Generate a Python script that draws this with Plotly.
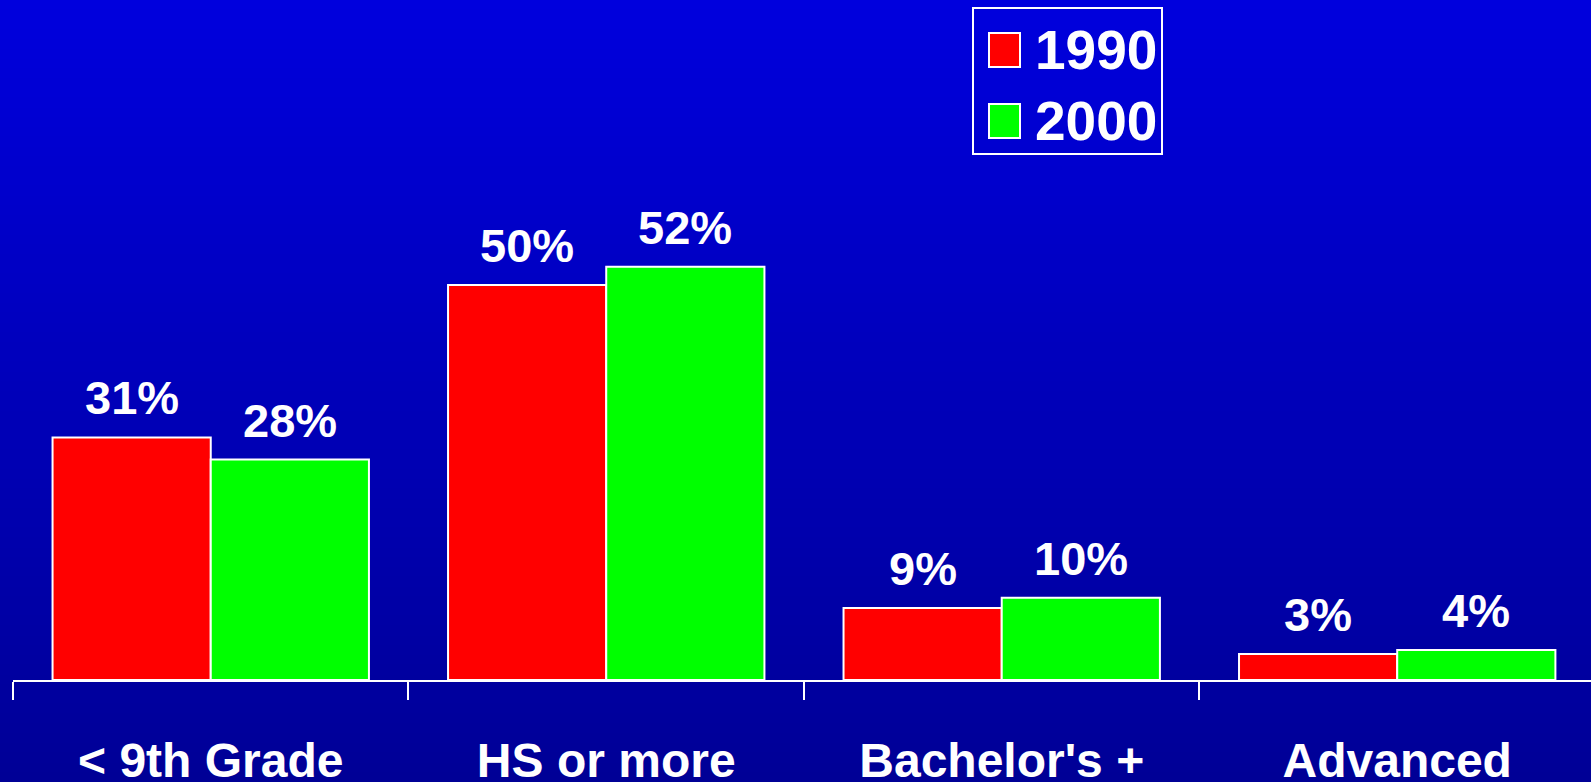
import plotly.graph_objects as go

# data
categories = ["< 9th Grade", "HS or more", "Bachelor's +", "Advanced"]
series_names = ["1990", "2000"]
values_1990 = [30.7, 50.0, 9.1, 3.3]
values_2000 = [27.9, 52.3, 10.4, 3.8]
labels_1990 = ["31%", "50%", "9%", "3%"]
labels_2000 = ["28%", "52%", "10%", "4%"]
bar_colors = ["#FF0000", "#00FF00"]

W, H = 1591, 782
ML, MR, MT, MB = 13, 0, 0, 102
PW, PH = W - ML - MR, H - MT - MB
FONT = "Liberation Sans, Arial, sans-serif"


def px_x(x):
    return (x - ML) / PW


def px_y(y):
    return 1 - (y - MT) / PH


fig = go.Figure()
for name, vals, color in zip(series_names, [values_1990, values_2000], bar_colors):
    fig.add_trace(go.Bar(x=categories, y=vals, name=name, marker_color=color,
                         marker_line=dict(color="white", width=2), showlegend=False,
                         hoverinfo="skip"))

# value labels above the bars
annotations = []
for i in range(len(categories)):
    for off, vals, labs in [(-0.2, values_1990, labels_1990), (0.2, values_2000, labels_2000)]:
        annotations.append(dict(x=i + off, y=vals[i], xref="x", yref="y", text=labs[i],
                                showarrow=False, yanchor="bottom", yshift=11,
                                font=dict(family=FONT, size=47, color="white", weight="bold")))

# background gradient (bright blue at top, navy at bottom)
shapes = []
n_bands = 80
top_rgb, bot_rgb = (0, 0, 221), (0, 0, 150)
for k in range(n_bands):
    f = (k + 0.5) / n_bands
    b = round(top_rgb[2] + (bot_rgb[2] - top_rgb[2]) * f)
    y_top = k * H / n_bands
    y_bot = (k + 1) * H / n_bands + 1
    shapes.append(dict(type="rect", xref="paper", yref="paper", layer="below",
                       x0=px_x(0), x1=px_x(W), y0=px_y(y_bot), y1=px_y(y_top),
                       fillcolor=f"rgb(0,0,{b})", line_width=0))

# custom legend with big swatches
shapes.append(dict(type="rect", xref="paper", yref="paper", x0=px_x(973), x1=px_x(1162),
                   y0=px_y(154), y1=px_y(8), line=dict(color="white", width=2),
                   fillcolor="rgba(0,0,0,0)"))
for j, (name, color) in enumerate(zip(series_names, bar_colors)):
    cy = 50 + j * 71
    shapes.append(dict(type="rect", xref="paper", yref="paper", x0=px_x(989), x1=px_x(1020),
                       y0=px_y(cy + 17), y1=px_y(cy - 17), fillcolor=color,
                       line=dict(color="white", width=2)))
    annotations.append(dict(x=px_x(1033), y=px_y(cy), xref="paper", yref="paper", text=name,
                            showarrow=False, xanchor="left", yanchor="middle",
                            font=dict(family=FONT, size=55, color="white", weight="bold")))

fig.update_layout(
    width=W, height=H, margin=dict(l=ML, r=MR, t=MT, b=MB),
    barmode="group", bargap=0.2, bargroupgap=0,
    paper_bgcolor="#0000BB", plot_bgcolor="rgba(0,0,0,0)",
    shapes=shapes, annotations=annotations, showlegend=False,
)
# last category runs off the right edge, so its boundary tick is not shown
fig.update_xaxes(type="category", range=[-0.5, 3.49], showline=True, linecolor="white", linewidth=2,
                 ticks="outside", tickson="boundaries", ticklen=18, tickwidth=2, tickcolor="white",
                 tickfont=dict(family=FONT, size=48, color="white", weight="bold"),
                 ticklabelstandoff=37, showgrid=False, automargin=False)
fig.update_yaxes(range=[0, PH / 7.9], visible=False, showgrid=False, zeroline=False)

# drop the browser's default body margin so the figure fills the window
fig.write_html("out.html", config={"displayModeBar": False},
               post_script="document.body.style.margin='0';"
                           "document.body.style.overflow='hidden';"
                           "document.body.style.background='#000096';")
